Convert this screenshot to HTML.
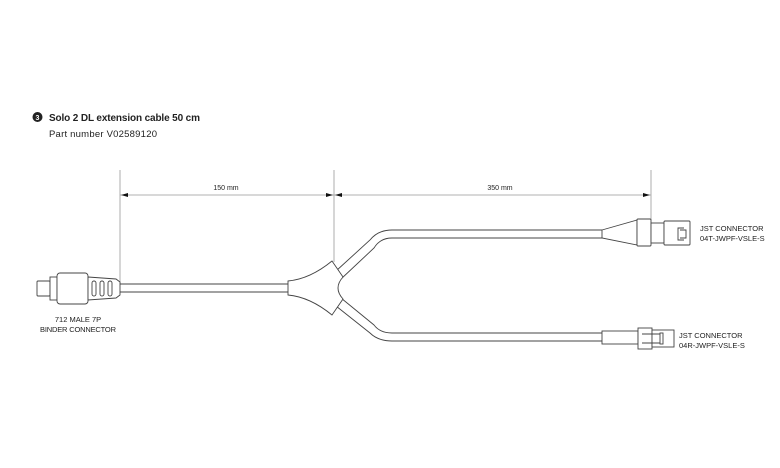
<!DOCTYPE html>
<html><head><meta charset="utf-8"><style>
html,body{margin:0;padding:0;background:#fff}
svg{display:block}
text{font-family:"Liberation Sans",sans-serif;fill:#222}
</style></head><body>
<svg width="780" height="468" viewBox="0 0 780 468" xmlns="http://www.w3.org/2000/svg">
<circle cx="37.5" cy="117" r="5" fill="#222"/>
<text x="37.5" y="120" font-size="7" font-weight="bold" text-anchor="middle" style="fill:#fff">3</text>
<text x="49" y="121" font-size="10" font-weight="bold" textLength="151">Solo 2 DL extension cable 50 cm</text>
<text x="49" y="137" font-size="9.5" fill="#333" textLength="108">Part number V02589120</text>
<g stroke="#999" stroke-width="0.8" fill="none">
<line x1="120" y1="170" x2="120" y2="283"/>
<line x1="334" y1="170" x2="334" y2="262"/>
<line x1="651" y1="170" x2="651" y2="220"/>
<line x1="120" y1="195" x2="651" y2="195"/>
</g>
<g fill="#111">
<polygon points="121,195 128,193 128,197"/>
<polygon points="333,195 326,193 326,197"/>
<polygon points="335,195 342,193 342,197"/>
<polygon points="650,195 643,193 643,197"/>
</g>
<text x="226" y="190" font-size="7" text-anchor="middle">150 mm</text>
<text x="500" y="190" font-size="7" text-anchor="middle">350 mm</text>
<g stroke="#444" stroke-width="0.9" fill="#fff">
<line x1="120" y1="284" x2="288" y2="284"/>
<line x1="120" y1="292" x2="288" y2="292"/>
<path d="M336,271 L370,240 Q378,230 392,230 L603,230" fill="none"/>
<path d="M341,279 L374,248 Q380,238 392,238 L603,238" fill="none"/>
<path d="M336,306 L370,333 Q378,341 392,341 L603,341" fill="none"/>
<path d="M341,298 L374,325 Q380,333 392,333 L603,333" fill="none"/>
<path d="M288,281 Q310,279 332,261 L343,277 Q333,288 343,299 L332,315 Q310,297 288,295 Z"/>
<rect x="37" y="281" width="13" height="15" rx="1"/>
<rect x="50" y="277" width="7" height="23"/>
<rect x="57" y="273" width="31" height="31" rx="3"/>
<path d="M88,277 L116,279 L120,282 L120,295 L116,298 L88,300 Z"/>
<rect x="92" y="281" width="4" height="15" rx="2"/>
<rect x="100" y="281" width="4" height="15" rx="2"/>
<rect x="108" y="281" width="4" height="15" rx="2"/>
<path d="M602,230 L637,220 L637,245 L602,238 Z"/>
<rect x="637" y="219" width="14" height="27" rx="1"/>
<rect x="651" y="223" width="13" height="20"/>
<rect x="664" y="221" width="26" height="24" rx="1"/>
<path d="M684,228 L678,228 L678,240 L684,240 M680,230 L686,230 L686,238 L680,238" fill="none"/>
<rect x="602" y="331" width="36" height="13"/>
<rect x="638" y="328" width="14" height="21"/>
<rect x="652" y="330" width="22" height="17"/>
<line x1="642" y1="334" x2="660" y2="334"/>
<line x1="642" y1="343" x2="660" y2="343"/>
<rect x="660" y="333" width="3" height="11"/>
</g>
<g font-size="7.5">
<text x="78" y="322" text-anchor="middle">712 MALE 7P</text>
<text x="78" y="332" text-anchor="middle" textLength="76">BINDER CONNECTOR</text>
<text x="700" y="231">JST CONNECTOR</text>
<text x="700" y="241">04T-JWPF-VSLE-S</text>
<text x="679" y="338">JST CONNECTOR</text>
<text x="679" y="348">04R-JWPF-VSLE-S</text>
</g>
</svg>
</body></html>
